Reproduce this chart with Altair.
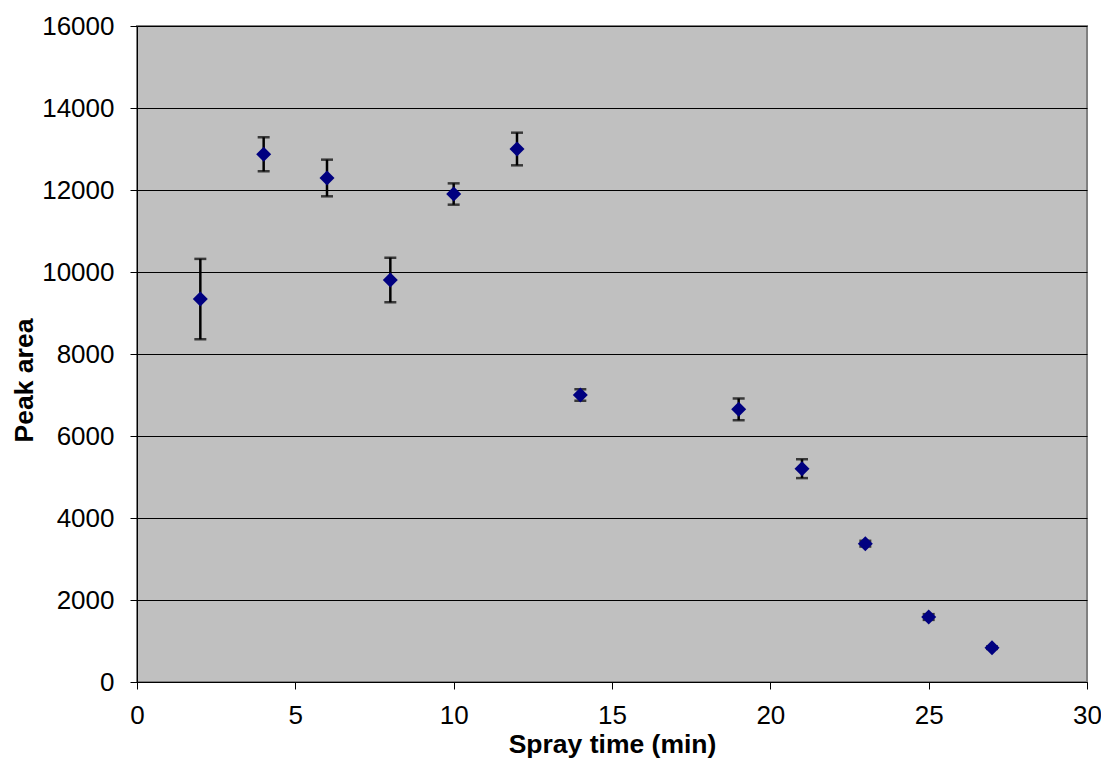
import altair as alt
import pandas as pd

spray_time = [2, 4, 6, 8, 10, 12, 14, 19, 21, 23, 25, 27]
peak_area = [9340, 12870, 12293, 9805, 11902, 13000, 7000, 6650, 5203, 3374, 1585, 837]
error = [980, 415, 447, 545, 260, 398, 140, 265, 230, 70, 70, 30]

df = pd.DataFrame({
    "t": spray_time,
    "area": peak_area,
    "lo": [a - e for a, e in zip(peak_area, error)],
    "hi": [a + e for a, e in zip(peak_area, error)],
})

FONT = "Liberation Sans"

x_axis = alt.Axis(
    values=[0, 5, 10, 15, 20, 25, 30], grid=False, tickSize=7, tickColor="black",
    domainColor="black", domainWidth=1, labelFontSize=26, labelFont=FONT,
    labelColor="black", labelPadding=13, labelFlush=False, format="d",
    title="Spray time (min)",
    titleFont=FONT, titleFontSize=26.5, titleFontWeight="bold", titleColor="black",
    titleBaseline="alphabetic", titleY=70,
)
y_axis = alt.Axis(
    values=list(range(0, 16001, 2000)), grid=True, gridColor="black", gridWidth=1,
    tickSize=7, tickColor="black", domainColor="black", domainWidth=1,
    labelFontSize=26, labelFont=FONT, labelColor="black", labelPadding=16,
    labelFlush=False, format="d",
    title="Peak area", titleFont=FONT, titleFontSize=26.5, titleFontWeight="bold",
    titleColor="black", titleAngle=-90, titleBaseline="alphabetic",
    titleX=-105, titleY=354, titleAlign="center",
)

xs = alt.Scale(domain=[0, 30], nice=False, zero=False)
ys = alt.Scale(domain=[0, 16000], nice=False)

bars = alt.Chart(df).mark_errorbar(
    ticks={"size": 12, "thickness": 2.5, "color": "black"},
    rule={"strokeWidth": 2.5, "color": "black"},
    color="black",
).encode(
    x=alt.X("t:Q", scale=xs, axis=x_axis),
    y=alt.Y("lo:Q", scale=ys, axis=y_axis),
    y2="hi:Q",
)

points = alt.Chart(df).mark_point(
    shape="diamond", filled=True, size=225, color="#000080", opacity=1
).encode(
    x=alt.X("t:Q", scale=xs),
    y=alt.Y("area:Q", scale=ys),
)

chart = alt.layer(bars, points).properties(
    width=950, height=656,
    autosize=alt.AutoSizeParams(type="none"),
    padding={"left": 129, "top": 18, "right": 14, "bottom": 78},
    background="white",
).configure_view(
    fill="#C0C0C0", stroke="#808080", strokeWidth=2
)

chart.save("out.html", embed_options={"renderer": "svg", "actions": False})
